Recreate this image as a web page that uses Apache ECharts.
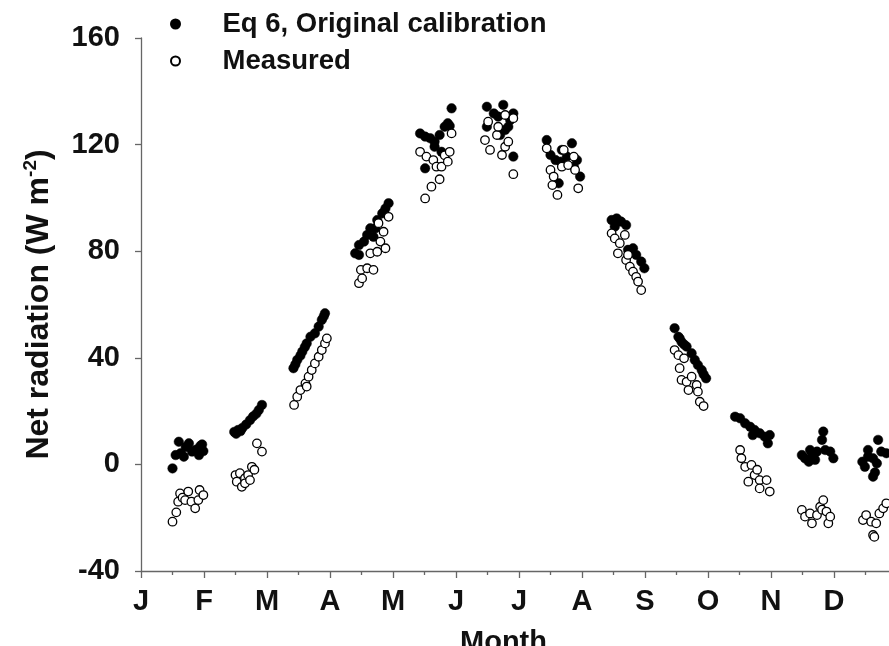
<!DOCTYPE html>
<html>
<head>
<meta charset="utf-8">
<script src="https://cdn.jsdelivr.net/npm/echarts@6/dist/echarts.min.js"></script>
<style>
  html, body { margin: 0; padding: 0; background: #fff; }
  #chart { width: 889px; height: 646px; }
</style>
</head>
<body>
<div id="chart"></div>
<script>
// Month initials along the x axis (value 0 = start of January)
const monthLetters = ['J', 'F', 'M', 'A', 'M', 'J', 'J', 'A', 'S', 'O', 'N', 'D'];

// Net radiation axis range and step (W m-2)
const netMin = -40;
const netMax = 160;
const netStep = 40;

// Eq 6, original calibration: position in months, one row per month
const eq6Month = [
  0.50, 0.55, 0.60, 0.63, 0.68, 0.71, 0.76, 0.81, 0.87, 0.92, 0.94, 0.97, 0.99,
  1.48, 1.51, 1.54, 1.58, 1.61, 1.67, 1.73, 1.78, 1.83, 1.87, 1.92,
  2.42, 2.45, 2.48, 2.53, 2.56, 2.60, 2.63, 2.69, 2.76, 2.82, 2.87, 2.90, 2.92,
  3.40, 3.46, 3.46, 3.54, 3.59, 3.64, 3.69, 3.72, 3.75, 3.83, 3.88, 3.93,
  4.43, 4.51, 4.51, 4.59, 4.66, 4.66, 4.74, 4.77, 4.82, 4.87, 4.90, 4.93,
  5.49, 5.49, 5.60, 5.67, 5.70, 5.75, 5.78, 5.83, 5.86, 5.91, 5.91,
  6.44, 6.50, 6.58, 6.63, 6.66, 6.68, 6.76, 6.84, 6.87, 6.92, 6.97,
  7.47, 7.52, 7.55, 7.62, 7.70, 7.73, 7.81, 7.86, 7.94, 7.99,
  8.47, 8.53, 8.55, 8.58, 8.62, 8.66, 8.74, 8.79, 8.84, 8.90, 8.93, 8.97,
  9.43, 9.51, 9.59, 9.67, 9.71, 9.74, 9.82, 9.90, 9.95, 9.98,
  10.49, 10.54, 10.60, 10.62, 10.66, 10.70, 10.73, 10.81, 10.83, 10.86, 10.94, 10.99,
  11.45, 11.49, 11.54, 11.54, 11.62, 11.62, 11.65, 11.68, 11.70, 11.75, 11.83
];
const eq6Net = [
  -1.5, 3.5, 8.5, 4.2, 2.9, 6.5, 7.9, 4.8, 5.5, 3.5, 6.9, 7.5, 5.0,
  12.2, 11.5, 12.9, 12.5, 13.7, 15.0, 16.6, 18.0, 19.0, 20.4, 22.3,
  36.1, 37.5, 39.2, 40.8, 42.3, 44.0, 45.4, 47.9, 49.2, 51.7, 54.2, 55.5, 56.7,
  79.2, 82.3, 78.6, 83.6, 86.1, 88.6, 85.4, 88.6, 91.7, 94.2, 96.0, 98.0,
  124.2, 123.0, 111.1, 122.4, 121.1, 119.2, 123.6, 117.3, 126.7, 128.0, 127.0, 133.6,
  134.2, 126.7, 131.7, 130.5, 123.6, 134.9, 125.5, 126.7, 129.2, 131.7, 115.5,
  121.7, 116.1, 114.2, 105.5, 113.6, 118.0, 115.5, 120.5, 111.7, 114.2, 108.0,
  91.7, 89.2, 92.3, 91.1, 89.8, 80.5, 81.1, 78.6, 76.1, 73.6,
  51.1, 47.9, 47.3, 46.0, 45.0, 44.2, 41.7, 39.2, 37.3, 35.4, 33.8, 32.3,
  17.9, 17.3, 15.4, 14.1, 11.0, 12.9, 11.7, 10.4, 7.9, 11.0,
  3.5, 2.3, 1.0, 5.4, 3.5, 1.7, 4.8, 9.2, 12.3, 5.4, 4.8, 2.3,
  1.0, -0.9, 2.9, 5.4, 2.3, -4.6, -3.0, 0.4, 9.2, 4.8, 4.2
];

// Measured net radiation: position in months, one row per month
const measuredMonth = [
  0.50, 0.56, 0.59, 0.62, 0.66, 0.70, 0.75, 0.80, 0.86, 0.91, 0.93, 0.99,
  1.50, 1.52, 1.57, 1.60, 1.65, 1.65, 1.70, 1.73, 1.76, 1.80, 1.84, 1.92,
  2.43, 2.48, 2.53, 2.61, 2.63, 2.66, 2.71, 2.76, 2.82, 2.87, 2.92, 2.95,
  3.46, 3.49, 3.51, 3.59, 3.64, 3.69, 3.75, 3.77, 3.80, 3.85, 3.88, 3.93,
  4.43, 4.51, 4.53, 4.61, 4.64, 4.69, 4.74, 4.77, 4.82, 4.87, 4.90, 4.93,
  5.46, 5.51, 5.54, 5.65, 5.67, 5.73, 5.78, 5.78, 5.83, 5.91, 5.91,
  6.44, 6.50, 6.53, 6.55, 6.61, 6.68, 6.71, 6.78, 6.87, 6.89, 6.94,
  7.47, 7.52, 7.57, 7.60, 7.68, 7.70, 7.73, 7.76, 7.81, 7.86, 7.89, 7.94,
  8.47, 8.53, 8.55, 8.58, 8.62, 8.66, 8.69, 8.74, 8.82, 8.84, 8.87, 8.93,
  9.51, 9.53, 9.59, 9.64, 9.69, 9.74, 9.78, 9.82, 9.82, 9.93, 9.98,
  10.49, 10.54, 10.62, 10.65, 10.73, 10.78, 10.81, 10.83, 10.88, 10.91, 10.94,
  11.46, 11.51, 11.59, 11.62, 11.64, 11.67, 11.72, 11.78, 11.83
];
const measuredNet = [
  -21.5, -18.0, -14.0, -10.9, -12.5, -13.4, -10.2, -14.0, -16.5, -13.4, -9.6, -11.5,
  -4.0, -6.5, -3.3, -8.4, -5.2, -7.1, -4.0, -5.9, -0.9, -2.0, 7.9, 4.8,
  22.3, 25.4, 27.9, 30.4, 29.2, 32.9, 35.4, 37.9, 40.4, 42.9, 45.4, 47.3,
  68.0, 73.0, 69.8, 73.6, 79.2, 73.0, 79.8, 90.5, 83.6, 87.3, 81.1, 92.9,
  117.3, 99.8, 115.5, 104.2, 114.2, 111.7, 107.0, 111.7, 116.0, 113.6, 117.3, 124.2,
  121.7, 128.6, 118.0, 123.6, 126.7, 116.1, 119.2, 131.1, 121.1, 108.9, 129.9,
  118.6, 110.5, 104.8, 108.0, 101.1, 111.7, 118.0, 112.3, 115.5, 110.5, 103.6,
  86.7, 84.8, 79.2, 83.0, 86.1, 76.7, 78.6, 74.2, 72.3, 70.4, 68.6, 65.4,
  42.9, 41.0, 36.1, 31.7, 39.8, 31.0, 27.9, 32.9, 29.8, 27.3, 23.5, 21.9,
  5.4, 2.3, -0.9, -6.5, -0.2, -4.0, -2.0, -5.9, -9.0, -5.9, -10.2,
  -17.1, -19.6, -18.4, -22.1, -19.0, -15.9, -17.0, -13.4, -17.7, -22.1, -19.6,
  -20.9, -19.0, -21.5, -26.5, -27.2, -22.1, -18.4, -16.5, -14.6
];

const fontFamily = '"Liberation Sans", Arial, Helvetica, sans-serif';
const axisGrey = '#666';
const inkColor = '#000';
const labelColor = '#111';

const pairs = (xs, ys) => xs.map((x, i) => [x, ys[i]]);

const chart = echarts.init(document.getElementById('chart'), null, { renderer: 'canvas' });

chart.setOption({
  animation: false,
  backgroundColor: '#fff',
  textStyle: { fontFamily: fontFamily },
  grid: {
    left: 141,
    top: 38,
    bottom: 75,
    right: -8,
    containLabel: false,
    outerBoundsMode: 'none'
  },
  legend: {
    orient: 'vertical',
    left: 170,
    top: 10,
    padding: 0,
    itemWidth: 84,
    itemHeight: 9,
    itemGap: 9,
    selectedMode: false,
    textStyle: {
      fontFamily: fontFamily,
      fontSize: 27.5,
      fontWeight: 'bold',
      color: labelColor,
      lineHeight: 26
    },
    data: [
      { name: 'Eq 6, Original calibration', icon: 'circle' },
      { name: 'Measured', icon: 'circle' }
    ]
  },
  xAxis: {
    type: 'value',
    min: 0,
    max: 12,
    interval: 1,
    axisLine: { show: true, onZero: false, lineStyle: { color: axisGrey, width: 1.3 } },
    axisTick: { show: true, length: 7, lineStyle: { color: axisGrey, width: 1.3 } },
    minorTick: { show: true, splitNumber: 2, length: 4, lineStyle: { color: axisGrey, width: 1.3 } },
    splitLine: { show: false },
    axisLabel: {
      margin: 16,
      fontFamily: fontFamily,
      fontSize: 29,
      fontWeight: 'bold',
      color: labelColor,
      formatter: v => (monthLetters[v] !== undefined ? monthLetters[v] : '')
    },
    name: 'Month',
    nameLocation: 'middle',
    nameGap: 57,
    nameTextStyle: {
      fontFamily: fontFamily,
      fontSize: 29,
      fontWeight: 'bold',
      color: labelColor,
      padding: [0, 31, 0, 0]
    }
  },
  yAxis: {
    type: 'value',
    min: netMin,
    max: netMax,
    interval: netStep,
    axisLine: { show: true, onZero: false, lineStyle: { color: axisGrey, width: 1.3 } },
    axisTick: { show: true, length: 6, lineStyle: { color: axisGrey, width: 1.3 } },
    splitLine: { show: false },
    axisLabel: {
      margin: 21,
      fontFamily: fontFamily,
      fontSize: 29,
      fontWeight: 'bold',
      color: labelColor
    },
    name: '{t|Net radiation (W m}{s|-2}{t|)}',
    nameLocation: 'middle',
    nameGap: 84,
    nameRotate: 90,
    nameTextStyle: {
      rich: {
        t: { fontFamily: fontFamily, fontSize: 32, fontWeight: 'bold', color: labelColor, lineHeight: 36 },
        s: { fontFamily: fontFamily, fontSize: 19, fontWeight: 'bold', color: labelColor, verticalAlign: 'top', lineHeight: 36 }
      }
    }
  },
  series: [
    {
      name: 'Eq 6, Original calibration',
      type: 'scatter',
      symbol: 'circle',
      symbolSize: 9.5,
      silent: true,
      itemStyle: { color: inkColor, borderColor: inkColor, borderWidth: 0.5, opacity: 1 },
      data: pairs(eq6Month, eq6Net)
    },
    {
      name: 'Measured',
      type: 'scatter',
      symbol: 'circle',
      symbolSize: 8.5,
      silent: true,
      itemStyle: { color: '#fff', borderColor: inkColor, borderWidth: 1.3, opacity: 1 },
      data: pairs(measuredMonth, measuredNet)
    }
  ]
});
</script>
</body>
</html>
